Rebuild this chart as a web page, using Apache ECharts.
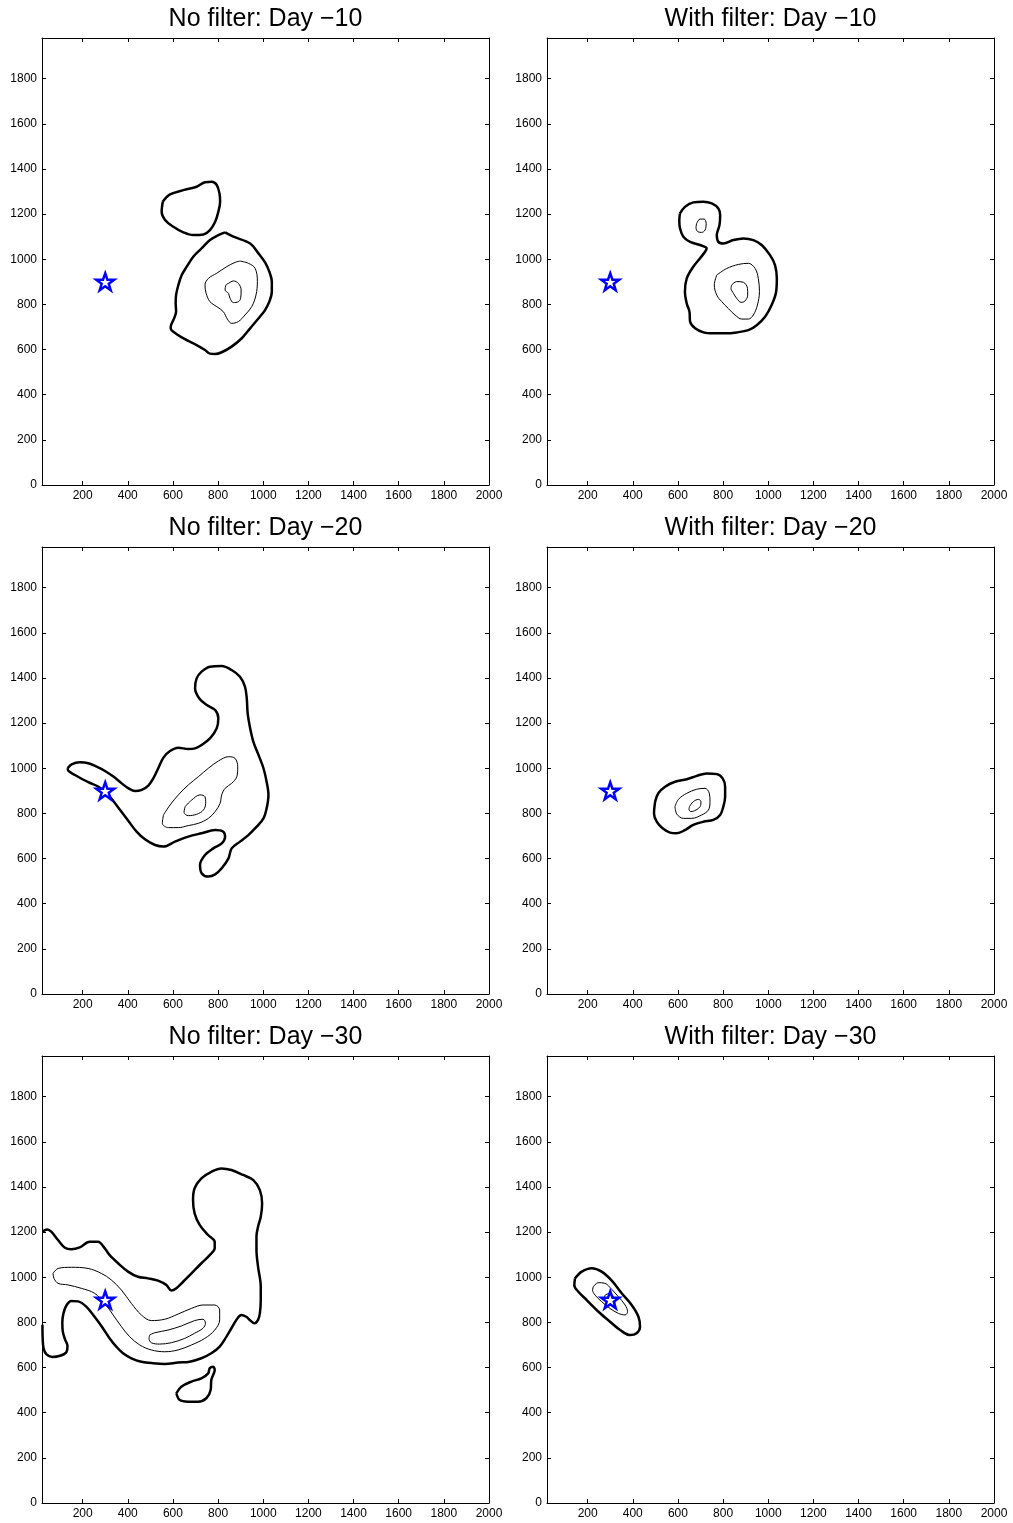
<!DOCTYPE html>
<html><head><meta charset="utf-8">
<script src="https://cdn.jsdelivr.net/npm/echarts@6/dist/echarts.min.js"></script>
<style>html,body{margin:0;padding:0;background:#fff}#c{width:1013px;height:1523px}</style>
</head><body><div id="c"></div>
<script>
// ---- tick labels ----
const xTicks = [200,400,600,800,1000,1200,1400,1600,1800,2000];
const yTicks = [0,200,400,600,800,1000,1200,1400,1600,1800];
const titles = ['No filter: Day \u221210','With filter: Day \u221210','No filter: Day \u221220','With filter: Day \u221220','No filter: Day \u221230','With filter: Day \u221230'];
const starPoint = [300, 900];

// ---- contour lines (data coordinates) ----
const tlBlob = [[555,1255],[587,1287],[646,1306],[705,1321],[742,1341],[772,1343],[794,1329],[806,1292],[809,1255],[801,1210],[787,1166],[764,1129],[735,1110],[690,1107],[646,1119],[602,1144],[565,1174],[550,1210]];
const tlOuter = [[831,1119],[868,1100],[942,1070],[979,1026],[1008,986],[1027,945],[1038,901],[1038,856],[1027,812],[1008,775],[986,746],[942,694],[905,650],[860,613],[816,588],[787,580],[764,582],[742,598],[705,620],[661,642],[617,668],[590,694],[592,709],[605,738],[614,768],[612,805],[614,842],[624,886],[639,930],[661,967],[690,1011],[727,1048],[764,1085],[801,1107]];
const tlMid = [[897,992],[934,982],[964,960],[974,901],[968,842],[949,790],[919,753],[890,724],[860,716],[841,735],[823,768],[794,790],[764,812],[747,849],[742,886],[757,915],[794,938],[838,967],[875,986]];
const tlInner = [[846,893],[868,904],[890,893],[902,864],[900,827],[890,812],[868,808],[853,827],[846,849],[831,864],[835,886]];

const trOuter = [[609,1203],[631,1232],[668,1252],[713,1255],[750,1247],[779,1225],[787,1195],[784,1151],[772,1107],[779,1077],[801,1070],[846,1085],[890,1092],[934,1085],[971,1063],[1008,1018],[1030,974],[1038,915],[1035,856],[1015,797],[986,745],[949,708],[912,686],[860,676],[809,672],[757,672],[713,676],[676,694],[654,723],[651,768],[639,804],[631,856],[639,915],[668,967],[698,1004],[720,1033],[727,1048],[698,1063],[654,1077],[624,1100],[609,1137],[606,1173]];
const trHead = [[683,1159],[698,1178],[716,1178],[725,1159],[720,1129],[705,1119],[688,1122],[680,1140]];
const trMid = [[772,930],[816,959],[868,977],[912,982],[942,959],[956,915],[961,856],[952,797],[934,753],[912,735],[883,735],[853,753],[823,782],[794,812],[772,841],[761,886]];
const trInner = [[838,886],[860,901],[890,898],[908,871],[909,841],[897,815],[880,809],[860,827],[846,849],[835,871]];

const mlOuter = [[134,1000],[151,1017],[188,1026],[225,1022],[262,1007],[299,988],[336,963],[373,933],[403,911],[432,899],[462,904],[491,923],[513,955],[535,1000],[558,1047],[587,1076],[624,1091],[668,1085],[698,1088],[727,1103],[764,1132],[794,1177],[801,1221],[787,1258],[750,1280],[716,1310],[698,1354],[705,1398],[727,1428],[764,1450],[816,1453],[860,1435],[897,1405],[919,1361],[927,1310],[931,1243],[942,1177],[956,1118],[979,1059],[1001,1000],[1015,940],[1023,882],[1015,822],[1001,778],[971,741],[934,704],[897,675],[860,645],[846,601],[816,557],[787,530],[757,520],[727,535],[720,572],[742,616],[779,645],[816,667],[831,697],[823,719],[787,726],[727,712],[668,697],[609,675],[558,653],[521,660],[476,685],[439,719],[403,766],[366,815],[329,864],[299,896],[270,918],[225,938],[166,970],[137,988]];
const mlMid = [[558,793],[587,837],[624,882],[668,926],[713,963],[757,1000],[801,1032],[846,1051],[875,1044],[887,1007],[883,963],[860,933],[831,911],[816,882],[809,845],[787,808],[757,778],[713,756],[668,746],[624,737],[580,737],[553,756]];
const mlInner = [[654,830],[683,859],[720,882],[742,874],[745,845],[735,815],[705,796],[668,790],[649,805]];

const mrOuter = [[499,852],[513,889],[543,918],[587,940],[639,951],[683,966],[727,977],[772,974],[798,955],[809,918],[809,874],[801,830],[787,793],[757,771],[713,763],[668,749],[631,726],[595,712],[565,715],[532,734],[506,763],[494,800]];
const mrMid = [[587,830],[602,862],[639,889],[683,907],[720,911],[739,889],[742,852],[735,815],[705,793],[661,778],[624,778],[595,797]];
const mrInner = [[651,830],[668,852],[691,862],[702,852],[698,830],[680,815],[658,808],[649,818]];

const blOuter = [[22,1202],[44,1212],[61,1202],[91,1165],[120,1132],[150,1124],[187,1132],[231,1157],[268,1157],[298,1128],[320,1098],[357,1062],[401,1025],[445,1002],[490,995],[534,985],[571,966],[593,941],[615,951],[645,980],[682,1017],[726,1062],[763,1098],[785,1128],[785,1157],[756,1187],[719,1231],[696,1283],[689,1342],[696,1394],[726,1438],[770,1467],[815,1482],[859,1475],[911,1453],[955,1431],[985,1386],[995,1327],[989,1268],[977,1224],[970,1180],[970,1121],[977,1047],[989,958],[989,899],[985,840],[977,811],[962,796],[940,811],[925,825],[903,833],[881,811],[859,774],[837,737],[807,693],[770,663],[726,641],[674,626],[623,622],[564,616],[512,619],[460,626],[416,641],[379,663],[349,693],[320,729],[290,774],[253,825],[216,870],[180,893],[150,895],[128,875],[115,840],[110,800],[112,760],[122,725],[133,695],[128,668],[100,652],[65,647],[40,658],[27,685],[23,730],[22,790]];
const blBlob = [[615,486],[637,515],[682,538],[726,552],[756,574],[763,597],[778,604],[785,589],[778,567],[770,545],[767,501],[748,464],[711,449],[667,449],[630,456]];
const blMid = [[69,1017],[91,1039],[150,1044],[224,1039],[283,1017],[327,988],[372,943],[416,884],[460,833],[504,808],[564,814],[623,837],[682,862],[733,877],[785,877],[807,855],[807,811],[785,766],[741,729],[682,700],[623,678],[564,670],[504,678],[453,700],[408,737],[372,781],[335,833],[298,884],[253,929],[194,951],[135,966],[91,973],[73,995]];
const blInner = [[497,744],[519,754],[578,766],[637,784],[696,808],[733,814],[744,796],[733,774],[696,752],[652,729],[593,710],[541,704],[504,710],[494,729]];

const brOuter = [[144,995],[174,1025],[218,1040],[262,1025],[307,985],[351,929],[395,877],[425,825],[432,781],[417,752],[388,744],[344,766],[299,803],[248,847],[196,899],[159,936],[141,965]];
const brMid = [[225,958],[247,976],[277,973],[307,946],[336,914],[366,877],[377,847],[366,833],[336,840],[299,862],[262,892],[233,921],[222,943]];
const brInner = [[277,921],[299,929],[318,906],[321,884],[307,877],[284,892],[274,909]];

// ---- panels ----
const panels = [
  {thick:[tlOuter, tlBlob], thin:[tlMid, tlInner], open:[]},
  {thick:[trOuter], thin:[trHead, trMid, trInner], open:[]},
  {thick:[mlOuter], thin:[mlMid, mlInner], open:[]},
  {thick:[mrOuter], thin:[mrMid, mrInner], open:[]},
  {thick:[blBlob], thin:[blMid, blInner], open:[blOuter]},
  {thick:[brOuter], thin:[brMid, brInner], open:[]}
];

const FONT = '"Liberation Sans", Arial, Helvetica, sans-serif';
const gridLefts = [42, 547];
const gridTops = [38, 547, 1056];
const W = 447, H = 447;

const grids = [], xAxes = [], yAxes = [], series = [], titleArr = [];
const close = a => a.concat([a[0]]);
const plain = v => String(v);
const STAR = 'path://M50,0 L61.8,34.5 L97.6,34.5 L68.8,55.9 L79.4,90.5 L50,69.1 L20.6,90.5 L31.2,55.9 L2.4,34.5 L38.2,34.5 Z';

panels.forEach((p, i) => {
  const col = i % 2, row = Math.floor(i / 2);
  const left = gridLefts[col], top = gridTops[row];
  grids.push({left: left, top: top, width: W, height: H, containLabel: false});
  titleArr.push({text: titles[i], left: left + W / 2, top: top - 31, textAlign: 'center', padding: 0,
    textStyle: {fontSize: 25, fontWeight: 'normal', fontFamily: FONT, color: '#000'}});
  const axLine = {show: true, onZero: false, lineStyle: {color: '#000', width: 1}};
  const tickX = {show: true, inside: true, length: 4, customValues: xTicks, lineStyle: {color: '#000', width: 1}};
  const tickY = {show: true, inside: true, length: 4, customValues: yTicks, lineStyle: {color: '#000', width: 1}};
  xAxes.push({type: 'value', gridIndex: i, position: 'bottom', min: 20, max: 2000,
    axisLine: axLine, axisTick: tickX, splitLine: {show: false},
    axisLabel: {show: true, customValues: xTicks, formatter: plain, color: '#000', fontSize: 12, fontFamily: FONT, margin: 5}});
  xAxes.push({type: 'value', gridIndex: i, position: 'top', min: 20, max: 2000,
    axisLine: axLine, axisTick: tickX, splitLine: {show: false}, axisLabel: {show: false}});
  yAxes.push({type: 'value', gridIndex: i, position: 'left', min: 0, max: 1980,
    axisLine: axLine, axisTick: tickY, splitLine: {show: false},
    axisLabel: {show: true, customValues: yTicks, formatter: plain, color: '#000', fontSize: 12, fontFamily: FONT, margin: 5}});
  yAxes.push({type: 'value', gridIndex: i, position: 'right', min: 0, max: 1980,
    axisLine: axLine, axisTick: tickY, splitLine: {show: false}, axisLabel: {show: false}});
  const base = {type: 'line', xAxisIndex: 2 * i, yAxisIndex: 2 * i, symbol: 'none', silent: true,
    smooth: 0.35, animation: false, clip: true};
  p.thick.forEach(c => series.push(Object.assign({}, base, {data: close(c), lineStyle: {color: '#000', width: 2.5}})));
  p.open.forEach(c => series.push(Object.assign({}, base, {data: c, lineStyle: {color: '#000', width: 2.5}})));
  p.thin.forEach(c => series.push(Object.assign({}, base, {data: close(c), lineStyle: {color: '#000', width: 1}})));
  series.push({type: 'scatter', xAxisIndex: 2 * i, yAxisIndex: 2 * i, data: [starPoint], symbol: STAR,
    symbolSize: 18, symbolKeepAspect: true, silent: true, animation: false, z: 10,
    itemStyle: {color: '#ffffff', borderColor: '#0000ff', borderWidth: 2.5, opacity: 1}});
});

const chart = echarts.init(document.getElementById('c'), null, {renderer: 'canvas'});
chart.setOption({backgroundColor: '#fff', animation: false, title: titleArr, grid: grids,
  xAxis: xAxes, yAxis: yAxes, series: series});
</script></body></html>
